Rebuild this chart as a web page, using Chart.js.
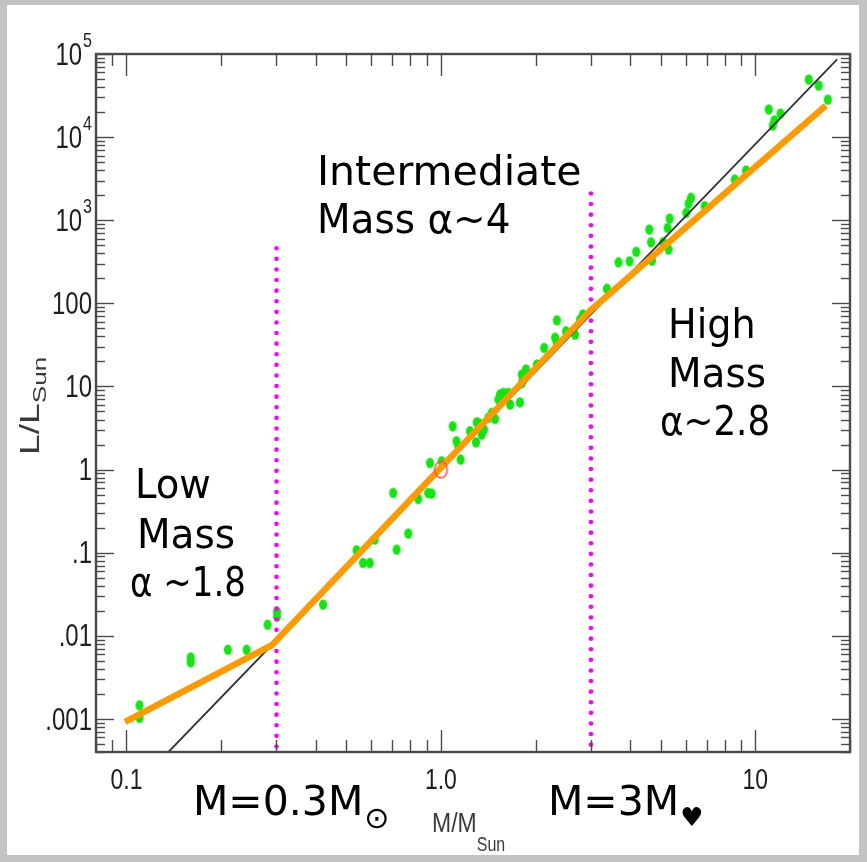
<!DOCTYPE html>
<html>
<head>
<meta charset="utf-8">
<script src="https://cdn.jsdelivr.net/npm/chart.js@4.4.0/dist/chart.umd.min.js"></script>
<style>
  html, body { margin: 0; padding: 0; background: #c3c3c3; }
  canvas { display: block; }
</style>
</head>
<body>
<canvas id="mlr" width="867" height="862"></canvas>
<script>
// Observed stars: mass (solar masses) and luminosity (solar luminosities)
const starMass = [
  0.110, 0.110, 0.160, 0.160, 0.210, 0.241, 0.281, 0.301, 0.301, 0.422,
  0.539, 0.565, 0.594, 0.616, 0.705, 0.723, 0.787, 0.847, 0.911, 0.934,
  0.923, 1.005, 1.09, 1.12, 1.136, 1.155, 1.237, 1.30, 1.325, 1.293,
  1.348, 1.37, 1.415, 1.45, 1.487, 1.542, 1.579, 1.523, 1.639, 1.66,
  1.784, 1.807, 1.807, 1.865, 1.827, 2.02, 2.13, 2.308, 2.337, 2.337,
  2.50, 2.67, 2.77, 2.83, 3.37, 3.67, 3.98, 4.18, 4.60, 4.66,
  4.69, 5.09, 5.26, 5.34, 5.30, 6.03, 6.13, 6.24, 6.90, 8.60,
  9.34, 11.03, 11.36, 11.5, 12.02, 14.78, 15.9, 17.0
];
const starLum = [
  0.00146, 0.00103, 0.0055, 0.0048, 0.0068, 0.0068, 0.0136, 0.0195, 0.0170, 0.0237,
  0.107, 0.0754, 0.0754, 0.144, 0.524, 0.109, 0.170, 0.444, 0.524, 0.514,
  1.20, 1.26, 3.32, 2.19, 1.91, 1.32, 2.89, 3.71, 3.58, 2.13,
  2.64, 3.03, 4.19, 4.81, 4.07, 7.99, 8.37, 6.96, 8.37, 6.06,
  6.45, 11.0, 13.9, 16.0, 12.1, 18.4, 29.1, 38.5, 33.5, 62.6,
  46.2, 42.1, 63.8, 73.3, 150, 312, 321, 417, 773, 543,
  327, 543, 809, 1048, 444, 1228, 1586, 1860, 1478, 3090,
  3963, 21500, 13800, 15900, 19200, 49300, 41700, 28300
];

// The Sun
const sunMass = [1.0];
const sunLum = [1.0];

// Broken power-law fit (low / intermediate / high mass)
const fitMass = [0.099, 0.29, 3.0, 16.75];
const fitLum = [0.00092, 0.0077, 83, 23900];

// Single power-law reference line
const refMass = [0.136, 18.2];
const refLum = [0.0004, 86300];

// Boundaries between mass regimes
const boundaryMass = [0.3, 3];
const boundaryTopLum = [460, 2100];
const axisFloorLum = 0.0004;

// Axis ranges and tick labels
const massRange = [0.08, 20];
const lumRange = [0.0004, 1e5];
const xTickValues = [0.1, 1, 10];
const xTickLabels = ['0.1', '1.0', '10'];
const yTickValues = [1e5, 1e4, 1e3, 100, 10, 1, 0.1, 0.01, 0.001];
const yTickLabels = [['10', '5'], ['10', '4'], ['10', '3'], ['100', ''], ['10', ''], ['1', ''], ['.1', ''], ['.01', ''], ['.001', '']];

const axisFont = '"Liberation Sans", Arial, Helvetica, sans-serif';
const noteFont = '"Comic Sans MS", "DejaVu Sans", sans-serif';

function pairs(xs, ys) { return xs.map((v, i) => ({ x: v, y: ys[i] })); }

function ellipseSprite(rx, ry, fill, stroke, lw) {
  const c = document.createElement('canvas');
  c.width = Math.ceil(rx * 2 + lw + 2);
  c.height = Math.ceil(ry * 2 + lw + 2);
  const g = c.getContext('2d');
  g.beginPath();
  g.ellipse(c.width / 2, c.height / 2, rx, ry, 0, 0, Math.PI * 2);
  if (fill) { g.fillStyle = fill; g.fill(); }
  if (stroke) { g.lineWidth = lw; g.strokeStyle = stroke; g.stroke(); }
  return c;
}

const starDot = ellipseSprite(4, 5.2, '#11e611', null, 0);
const sunRing = ellipseSprite(6.3, 8.3, null, '#ff4f4f', 1.6);

// text drawn with independent horizontal / vertical scaling
function scaledText(ctx, text, x, y, sx, sy) {
  ctx.save();
  ctx.translate(x, y);
  ctx.scale(sx, sy);
  ctx.fillText(text, 0, 0);
  ctx.restore();
}

// Log-axis frame with inward ticks on all four sides, plus labels and notes
const frame = {
  id: 'frame',
  beforeDraw(chart) {
    const { ctx, width, height } = chart;
    ctx.save();
    ctx.fillStyle = '#c3c3c3';
    ctx.fillRect(0, 0, width, height);
    ctx.fillStyle = '#ffffff';
    ctx.fillRect(7, 5, 852, 850);
    ctx.restore();
  },
  afterDatasetsDraw(chart) {
    const { ctx, chartArea: a } = chart;
    const xs = chart.scales.x, ys = chart.scales.y;
    ctx.save();
    ctx.strokeStyle = '#4a4a4a';
    ctx.lineWidth = 1.4;
    const seg = (x1, y1, x2, y2) => { ctx.beginPath(); ctx.moveTo(x1, y1); ctx.lineTo(x2, y2); ctx.stroke(); };

    for (let d = -2; d <= 2; d++) {
      for (let k = 1; k <= 9; k++) {
        const v = k * Math.pow(10, d);
        if (v < xs.min * 0.999 || v > xs.max * 1.001) continue;
        const px = Math.round(xs.getPixelForValue(v)) + 0.5;
        const len = k === 1 ? 22 : 12;
        seg(px, a.bottom, px, a.bottom - len);
        seg(px, a.top, px, a.top + len);
      }
    }
    for (let d = -4; d <= 5; d++) {
      for (let k = 1; k <= 9; k++) {
        const v = k * Math.pow(10, d);
        if (v < ys.min * 0.999 || v > ys.max * 1.001) continue;
        const py = Math.round(ys.getPixelForValue(v)) + 0.5;
        const len = k === 1 ? 18 : 9;
        seg(a.left, py, a.left + len, py);
        seg(a.right, py, a.right - len, py);
      }
    }
    ctx.lineWidth = 2.4;
    ctx.strokeRect(a.left, a.top, a.right - a.left, a.bottom - a.top);

    // tick labels
    ctx.fillStyle = '#1e1e1e';
    ctx.textBaseline = 'middle';
    yTickValues.forEach((v, i) => {
      const py = ys.getPixelForValue(v);
      const [base, sup] = yTickLabels[i];
      const right = a.left - 4;
      ctx.font = `16px ${axisFont}`;
      const ws = sup ? ctx.measureText(sup).width + 1 : 0;
      if (sup) {
        ctx.textAlign = 'left';
        scaledText(ctx, sup, right - ws + 1, py - 13, 1, 1.3);
      }
      ctx.font = `24px ${axisFont}`;
      ctx.textAlign = 'right';
      scaledText(ctx, base, right - ws, py + 2, 1, 1.3);
    });
    ctx.textAlign = 'center';
    ctx.textBaseline = 'alphabetic';
    ctx.font = `23px ${axisFont}`;
    xTickValues.forEach((v, i) => {
      scaledText(ctx, xTickLabels[i], xs.getPixelForValue(v), a.bottom + 37, 1, 1.3);
    });

    // axis titles
    ctx.fillStyle = '#3a3a3a';
    ctx.textAlign = 'left';
    ctx.font = `23px ${axisFont}`;
    const mm = 'M/M';
    scaledText(ctx, mm, 432, 832, 1, 1.2);
    const mmW = ctx.measureText(mm).width;
    ctx.font = `16px ${axisFont}`;
    scaledText(ctx, 'Sun', 432 + mmW, 851, 1, 1.3);

    ctx.save();
    ctx.translate(39, 455);
    ctx.rotate(-Math.PI / 2);
    ctx.scale(1.38, 1);
    ctx.font = `27px ${axisFont}`;
    const ll = 'L/L';
    ctx.fillText(ll, 0, 0);
    const llW = ctx.measureText(ll).width;
    ctx.font = `19px ${axisFont}`;
    ctx.fillText('Sun', llW, 7);
    ctx.restore();

    ctx.restore();
  },
  afterDraw(chart) {
    const { ctx } = chart;
    ctx.save();
    ctx.fillStyle = '#000000';
    ctx.textAlign = 'left';
    ctx.textBaseline = 'alphabetic';
    ctx.font = `41px ${noteFont}`;
    ctx.fillText('Intermediate', 317, 185);
    scaledText(ctx, 'Mass \u03b1~4', 317, 233, 0.95, 1);
    scaledText(ctx, 'Low', 135, 498, 0.94, 1);
    scaledText(ctx, 'Mass', 137, 548, 0.95, 1);
    scaledText(ctx, '\u03b1 ~1.8', 130, 596, 0.83, 1);
    scaledText(ctx, 'High', 668, 338, 0.93, 1);
    scaledText(ctx, 'Mass', 668, 387, 0.95, 1);
    scaledText(ctx, '\u03b1~2.8', 660, 435, 0.87, 1);

    const withSub = (main, sub, x, y, subSize, dy) => {
      ctx.font = `41px ${noteFont}`;
      ctx.fillText(main, x, y);
      const w = ctx.measureText(main).width;
      ctx.font = `${subSize}px ${noteFont}`;
      ctx.fillText(sub, x + w + 1, y + dy);
    };
    withSub('M=0.3M', '\u2299', 193, 815, 30, 13);
    withSub('M=3M', '\u2665', 548, 815, 26, 11);
    ctx.restore();
  }
};

new Chart(document.getElementById('mlr'), {
  type: 'scatter',
  data: {
    datasets: [
      {
        label: 'Stars',
        data: pairs(starMass, starLum),
        pointStyle: starDot,
        pointRadius: 5,
        showLine: false,
        order: 5
      },
      {
        label: 'Power law',
        type: 'line',
        data: pairs(refMass, refLum),
        borderColor: '#333333',
        borderWidth: 1.8,
        pointRadius: 0,
        fill: false,
        order: 4
      },
      {
        label: '0.3 Msun',
        type: 'line',
        data: [{ x: boundaryMass[0], y: boundaryTopLum[0] }, { x: boundaryMass[0], y: axisFloorLum }],
        borderColor: '#ff00ff',
        borderWidth: 4.6,
        borderDash: [0, 10.6],
        borderCapStyle: 'round',
        pointRadius: 0,
        fill: false,
        order: 3
      },
      {
        label: '3 Msun',
        type: 'line',
        data: [{ x: boundaryMass[1], y: boundaryTopLum[1] }, { x: boundaryMass[1], y: axisFloorLum }],
        borderColor: '#ff00ff',
        borderWidth: 4.6,
        borderDash: [0, 10.6],
        borderCapStyle: 'round',
        pointRadius: 0,
        fill: false,
        order: 3
      },
      {
        label: 'Broken power law',
        type: 'line',
        data: pairs(fitMass, fitLum),
        borderColor: '#ff9a00',
        borderWidth: 6.5,
        borderJoinStyle: 'miter',
        pointRadius: 0,
        fill: false,
        order: 2
      },
      {
        label: 'Sun',
        data: pairs(sunMass, sunLum),
        pointStyle: sunRing,
        pointRadius: 8,
        showLine: false,
        order: 1
      }
    ]
  },
  options: {
    responsive: false,
    animation: false,
    devicePixelRatio: 1,
    layout: { padding: { left: 96, top: 54, right: 17, bottom: 110 } },
    plugins: { legend: { display: false }, tooltip: { enabled: false } },
    scales: {
      x: { type: 'logarithmic', min: massRange[0], max: massRange[1], display: false },
      y: { type: 'logarithmic', min: lumRange[0], max: lumRange[1], display: false }
    }
  },
  plugins: [frame]
});
</script>
</body>
</html>
